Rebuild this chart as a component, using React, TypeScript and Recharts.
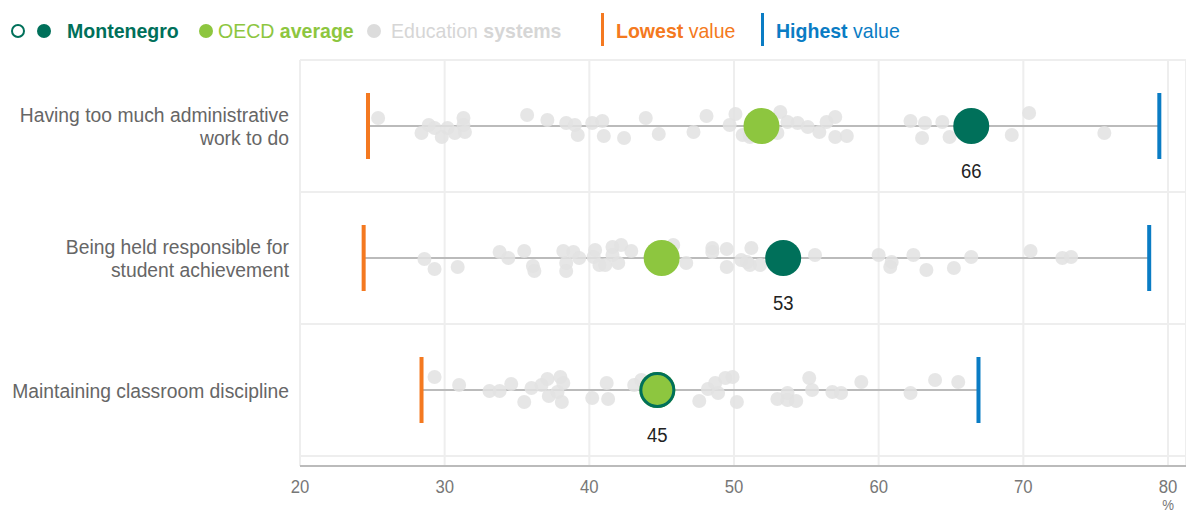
import React from "react";
import {
  ScatterChart,
  Scatter,
  XAxis,
  YAxis,
  CartesianGrid,
  ReferenceLine,
} from "recharts";

// rows, top to bottom
const CATEGORIES = [
  ["Having too much administrative", "work to do"],
  ["Being held responsible for", "student achievement"],
  ["Maintaining classroom discipline"],
];
const MONTENEGRO = [66.4, 53.4, 44.7];
const MNE_SIGNIFICANT = [true, true, false];
const OECD = [51.9, 45.0, 44.7];
const LOWEST = [24.7, 24.4, 28.4];
const HIGHEST = [79.4, 78.7, 66.9];

// other education systems (value, vertical jitter in px)
const SYSTEMS_1 = [25.4, 28.9, 28.4, 29.3, 29.8, 30.2, 30.7, 31.3, 31.3, 31.4, 35.7, 37.1, 38.4, 39.0, 39.2, 40.2, 40.9, 41.0, 42.4, 43.9, 44.8, 47.2, 48.1, 49.7, 50.1, 50.6, 51.1, 53.2, 53.7, 53.0, 51.1, 54.4, 55.1, 55.9, 56.4, 57.0, 57.0, 57.8, 62.2, 63.2, 63.0, 64.4, 64.9, 69.2, 70.4, 75.6];
const JITTER_1 = [-8, -1, 7, 2, 11, 2, 7, -8, -1, 6, -11, -6, -3, -1, 9, -3, -5, 10, 12, -8, 8, 6, -10, -1, -12, 9, 11, -14, -4, 7, 9, -3, 1, 6, -4, -9, 11, 10, -5, -3, 12, -4, 11, 9, -13, 7];
const SYSTEMS_2 = [28.6, 29.3, 30.9, 33.8, 34.4, 35.5, 36.1, 36.2, 38.2, 38.9, 38.4, 38.4, 39.3, 40.4, 40.3, 40.7, 41.1, 41.6, 42.2, 41.6, 42.0, 42.9, 45.8, 46.7, 48.5, 48.5, 49.5, 49.5, 50.5, 51.2, 51.1, 51.8, 50.9, 55.6, 60.0, 60.9, 60.8, 62.4, 63.3, 65.2, 66.4, 70.5, 72.7, 73.3];
const JITTER_2 = [1, 11, 9, -6, 0, -7, 8, 13, -7, -6, 5, 13, 0, -8, -1, 7, 7, -11, -13, -3, 5, -7, -13, 5, -10, -6, -9, 9, 2, -10, 7, 7, 4, -3, -3, 4, 9, -3, 12, 10, -1, -7, 0, -1];
const SYSTEMS_3 = [29.3, 31.0, 33.1, 33.8, 34.6, 35.5, 36.0, 36.7, 37.1, 37.2, 38.0, 38.2, 37.8, 38.1, 40.2, 41.2, 41.3, 43.1, 43.6, 47.6, 48.2, 48.7, 48.9, 49.4, 49.9, 50.2, 53.0, 53.7, 53.7, 54.3, 55.2, 55.4, 56.8, 57.4, 58.8, 62.2, 63.9, 65.5];
const JITTER_3 = [-13, -5, 1, 1, -6, 12, -2, -5, -11, 6, -13, -7, 2, 12, 8, -7, 9, -5, -10, 11, -1, -7, 3, -12, -13, 12, 9, 3, 10, 11, -12, 0, 2, 3, -8, 3, -10, -8];

const X_TICKS = [20, 30, 40, 50, 60, 70, 80];

const ROW_PX = 132;
const FONT = "'Liberation Sans', Arial, sans-serif";
const C_MNE = "#00705a";
const C_OECD = "#8dc63f";
const C_SYS = "#e2e2e2";
const C_LOW = "#f47920";
const C_HIGH = "#0a7cc4";

const rowY = (i: number) => i + 0.5;

const systems = [
  [SYSTEMS_1, JITTER_1],
  [SYSTEMS_2, JITTER_2],
  [SYSTEMS_3, JITTER_3],
].flatMap(([vals, jit], row) =>
  vals.map((v, k) => ({ x: v, y: rowY(row) + jit[k] / ROW_PX }))
);
const mneData = MONTENEGRO.map((v, i) => ({ x: v, y: rowY(i), sig: MNE_SIGNIFICANT[i] }));
const oecdData = OECD.map((v, i) => ({ x: v, y: rowY(i) }));
const lowData = LOWEST.map((v, i) => ({ x: v, y: rowY(i) }));
const highData = HIGHEST.map((v, i) => ({ x: v, y: rowY(i) }));

// the original uses a condensed face; squeeze Liberation Sans to match
const Narrow = ({ x, y, k = 0.9, children }: any) => (
  <g transform={`translate(${x} ${y}) scale(${k} 1)`}>{children}</g>
);

const CategoryTick = (props: any) => {
  const { x, y, payload } = props;
  const idx = Math.round(payload.value - 0.5);
  const lines = CATEGORIES[idx] || [];
  const start = -((lines.length - 1) * 24) / 2;
  return (
    <Narrow x={x - 3} y={y} k={0.92}>
      <text x={0} y={0} textAnchor="end" fill="#666" fontSize={21} fontFamily={FONT}>
        {lines.map((l, k) => (
          <tspan key={k} x={0} dy={k === 0 ? start + 7.5 : 24}>
            {l}
          </tspan>
        ))}
      </text>
    </Narrow>
  );
};

const XTick = (props: any) => {
  const { x, y, payload } = props;
  return (
    <g>
      <Narrow x={x} y={y} k={0.88}>
        <text x={0} y={0} dy={15} textAnchor="middle" fill="#777" fontSize={19} fontFamily={FONT}>
          {payload.value}
        </text>
      </Narrow>
      {payload.value === 80 && (
        <Narrow x={x} y={y} k={0.88}>
          <text x={0} y={0} dy={32} textAnchor="middle" fill="#777" fontSize={15} fontFamily={FONT}>
            %
          </text>
        </Narrow>
      )}
    </g>
  );
};

const Legend = () => {
  const base: React.CSSProperties = {
    position: "absolute",
    top: 19,
    fontFamily: FONT,
    fontSize: 21,
    lineHeight: "24px",
    whiteSpace: "nowrap",
    transform: "scaleX(0.93)",
    transformOrigin: "left center",
  };
  const dot = (left: number, fill: string, stroke?: string): React.CSSProperties => ({
    position: "absolute",
    left: left - 7,
    top: 24,
    width: stroke ? 10 : 14,
    height: stroke ? 10 : 14,
    borderRadius: "50%",
    background: fill,
    border: stroke ? `2px solid ${stroke}` : "none",
  });
  const bar = (left: number, color: string): React.CSSProperties => ({
    position: "absolute",
    left,
    top: 13,
    width: 3,
    height: 33,
    background: color,
  });
  return (
    <>
      <div style={dot(18, "#fff", C_MNE)} />
      <div style={dot(44, C_MNE)} />
      <div style={{ ...base, left: 67, color: C_MNE, fontWeight: 700 }}>Montenegro</div>
      <div style={dot(206, C_OECD)} />
      <div style={{ ...base, left: 218, color: C_OECD }}>
        OECD <b>average</b>
      </div>
      <div style={dot(374, "#dcdcdc")} />
      <div style={{ ...base, left: 391, color: "#d6d6d6" }}>
        Education <b>systems</b>
      </div>
      <div style={bar(601, C_LOW)} />
      <div style={{ ...base, left: 616, color: C_LOW }}>
        <b>Lowest</b> value
      </div>
      <div style={bar(761, C_HIGH)} />
      <div style={{ ...base, left: 776, color: C_HIGH }}>
        <b>Highest</b> value
      </div>
    </>
  );
};

export default function App() {
  const plotH = 406;
  return (
    <div
      style={{
        position: "absolute",
        left: 0,
        top: 0,
        width: 1186,
        height: 512,
        background: "#fff",
        overflow: "hidden",
      }}
    >
      <Legend />
      <ScatterChart
        width={1186}
        height={512}
        margin={{ top: 60, right: 0, bottom: 0, left: 0 }}
        style={{ position: "absolute", left: 0, top: 0 }}
      >
        <CartesianGrid vertical horizontal={false} stroke="#eeeeee" strokeWidth={2} />
        <XAxis
          type="number"
          dataKey="x"
          domain={[20, 20 + (886 * 60) / 868]}
          ticks={X_TICKS}
          allowDataOverflow
          height={46}
          axisLine={{ stroke: "#bbbbbb", strokeWidth: 2 }}
          tickLine={false}
          tick={<XTick />}
          tickMargin={6}
        />
        <YAxis
          type="number"
          dataKey="y"
          reversed
          domain={[0, plotH / ROW_PX]}
          ticks={[0.5, 1.5, 2.5]}
          width={300}
          axisLine={false}
          tickLine={false}
          tick={<CategoryTick />}
          allowDataOverflow
        />
        {[0, 1, 2, 3].map((b) => (
          <ReferenceLine key={`sep-${b}`} y={b} stroke="#eeeeee" strokeWidth={2} />
        ))}
        {LOWEST.map((lo, i) => (
          <ReferenceLine
            key={`rng-${i}`}
            segment={[
              { x: lo, y: rowY(i) },
              { x: HIGHEST[i], y: rowY(i) },
            ]}
            stroke="#bbbbbb"
            strokeWidth={2}
          />
        ))}
        <Scatter
          data={systems}
          isAnimationActive={false}
          shape={(p: any) => <circle cx={p.cx} cy={p.cy} r={7} fill={C_SYS} fillOpacity={0.85} />}
        />
        <Scatter
          data={lowData}
          isAnimationActive={false}
          shape={(p: any) => <rect x={p.cx - 2} y={p.cy - 33} width={4} height={66} fill={C_LOW} />}
        />
        <Scatter
          data={highData}
          isAnimationActive={false}
          shape={(p: any) => <rect x={p.cx - 2} y={p.cy - 33} width={4} height={66} fill={C_HIGH} />}
        />
        <Scatter
          data={oecdData}
          isAnimationActive={false}
          shape={(p: any) => <circle cx={p.cx} cy={p.cy} r={18} fill={C_OECD} />}
        />
        <Scatter
          data={mneData}
          isAnimationActive={false}
          shape={(p: any) => (
            <g>
              {p.payload.sig ? (
                <circle cx={p.cx} cy={p.cy} r={18} fill={C_MNE} />
              ) : (
                <circle cx={p.cx} cy={p.cy} r={16.5} fill="none" stroke={C_MNE} strokeWidth={3} />
              )}
              <Narrow x={p.cx} y={p.cy} k={0.88}>
                <text x={0} y={0} dy={52} textAnchor="middle" fill="#222" fontSize={21} fontFamily={FONT}>
                  {Math.round(p.payload.x)}
                </text>
              </Narrow>
            </g>
          )}
        />
      </ScatterChart>
    </div>
  );
}
